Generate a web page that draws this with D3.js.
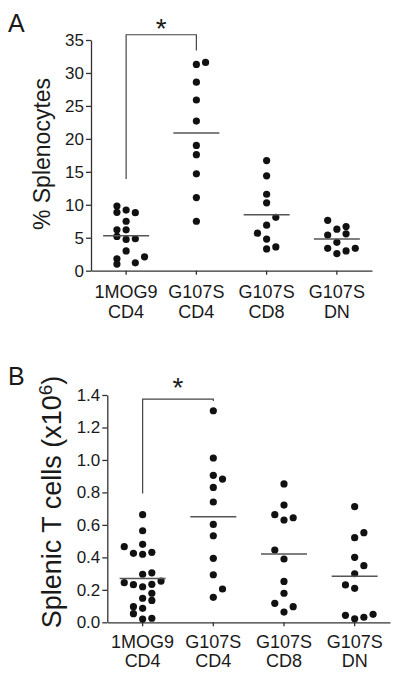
<!DOCTYPE html>
<html>
<head>
<meta charset="utf-8">
<script src="https://cdn.jsdelivr.net/npm/d3@7"></script>
<style>
  html, body { margin: 0; padding: 0; background: #fff; }
  svg { display: block; font-family: "Liberation Sans", Arial, Helvetica, sans-serif; }
</style>
</head>
<body>
<svg id="chart" width="400" height="677"></svg>
<script>
// ---------- DATA ----------
const groups = ["1MOG9 CD4", "G107S CD4", "G107S CD8", "G107S DN"];
const catTop = ["1MOG9", "G107S", "G107S", "G107S"];
const catBottom = ["CD4", "CD4", "CD8", "DN"];

// Panel A: % Splenocytes
const pctMOG9CD4   = [9.8, 8.85, 9.2, 8.8, 7.5, 6.2, 6.2, 5.2, 4.75, 4.85, 3.0, 1.8, 2.1, 1.0, 1.2];
const pctMOG9CD4Col = [-1, -1, 0, 1, 0, -1, 0, -1, 0, 1, 0, -1, 2, -1, 1];
const pctG107CD4   = [31.3, 31.6, 28.6, 25.9, 22.7, 19.0, 17.6, 14.7, 11.1, 7.5];
const pctG107CD4Col = [0, 1, 0, 0, 0, 0, 0, 0, 0, 0];
const pctG107CD8   = [16.7, 14.4, 11.6, 10.3, 8.1, 6.9, 5.7, 4.8, 3.3, 3.6];
const pctG107CD8Col = [0, 0, 0, 0, 1, 0, -1, 0, 0, 1];
const pctG107DN    = [7.65, 6.3, 6.7, 5.6, 5.4, 4.3, 3.4, 2.6, 3.0, 3.4];
const pctG107DNCol  = [-1, 0, 1, 1, -1, 0, -1, 0, 1, 2];
const pctMedians = [5.3, 20.9, 8.5, 4.8];
const pctTicks = [0, 5, 10, 15, 20, 25, 30, 35];

// Panel B: Splenic T cells (x10^6)
const cellsMOG9CD4   = [0.663, 0.564, 0.466, 0.480, 0.425, 0.419, 0.431, 0.296, 0.305, 0.244, 0.232, 0.219, 0.234, 0.254, 0.148, 0.179, 0.135, 0.096, 0.086, 0.053, 0.020, 0.025];
const cellsMOG9CD4Col = [0, 0, -2, 0, -1, 0, 1, 0, 1, -2, -1, 0, 1, 2, 0, 1, 1, -1, 0, -1, 0, 1];
const cellsG107CD4   = [1.303, 1.012, 0.905, 0.882, 0.831, 0.741, 0.603, 0.533, 0.394, 0.293, 0.205, 0.154];
const cellsG107CD4Col = [0, 0, 0, 1, 0, 0, 0, 0, 0, 0, 1, 0];
const cellsG107CD8   = [0.852, 0.722, 0.663, 0.630, 0.644, 0.445, 0.390, 0.252, 0.179, 0.117, 0.096, 0.063];
const cellsG107CD8Col = [0, 0, -1, 0, 1, -1, 0, 0, 0, -1, 1, 0];
const cellsG107DN    = [0.712, 0.521, 0.552, 0.400, 0.349, 0.299, 0.230, 0.209, 0.043, 0.022, 0.031, 0.049];
const cellsG107DNCol  = [0, 0, 1, 0, 1, 0, -1, 0, -1, 0, 1, 2];
const cellsMedians = [0.27, 0.65, 0.42, 0.283];
const cellsTicks = [0, 0.2, 0.4, 0.6, 0.8, 1.0, 1.2, 1.4];

// significance brackets: [groupFrom, groupTo, top value, left end value, right end value]
const bracketA = [0, 1, 35.8, 13.9, 33.4];
const bracketB = [0, 1, 1.375, 0.794, 1.363];

// ---------- DRAW ----------
const svg = d3.select("#chart");
const ink = "#1a1a1a";

function drawPanel(cfg) {
  const g = svg.append("g");
  const x = d3.scaleBand().domain(groups).range([cfg.left, cfg.right]);
  const y = d3.scaleLinear().domain([0, cfg.yMax]).range([cfg.bottom, cfg.top]);
  const cx = i => x(groups[i]) + x.bandwidth() / 2;

  // y axis
  const ya = g.append("g")
    .attr("transform", `translate(${cfg.left},0)`)
    .call(d3.axisLeft(y).tickValues(cfg.ticks).tickFormat(cfg.fmt)
      .tickSize(5).tickPadding(2).tickSizeOuter(0));
  // x axis
  const xa = g.append("g")
    .attr("transform", `translate(0,${cfg.bottom})`)
    .call(d3.axisBottom(x).tickSize(4).tickSizeOuter(0).tickFormat(""));
  [ya, xa].forEach(a => {
    a.selectAll("path, line").attr("stroke", "#333").attr("stroke-width", 1.3);
  });
  ya.selectAll("text").attr("font-size", cfg.tickFont).attr("fill", ink)
    .attr("font-family", "Liberation Sans, Arial, sans-serif");

  // category labels
  groups.forEach((gname, i) => {
    const t = g.append("text").attr("text-anchor", "middle")
      .attr("font-size", 18).attr("fill", ink);
    t.append("tspan").attr("x", cx(i)).attr("y", cfg.bottom + cfg.lab1).text(catTop[i]);
    t.append("tspan").attr("x", cx(i)).attr("y", cfg.bottom + cfg.lab2).text(catBottom[i]);
  });

  // dots
  cfg.series.forEach((s, i) => {
    g.append("g").selectAll("circle").data(s.values).join("circle")
      .attr("cx", (d, k) => cx(i) + s.cols[k] * 9.2)
      .attr("cy", d => y(d))
      .attr("r", 3.6)
      .attr("fill", "#111");
  });

  // medians
  g.append("g").selectAll("line").data(cfg.medians).join("line")
    .attr("x1", (d, i) => cx(i) - 23)
    .attr("x2", (d, i) => cx(i) + 23)
    .attr("y1", d => y(d)).attr("y2", d => y(d))
    .attr("stroke", "#555").attr("stroke-width", 1.5);

  // bracket
  const b = cfg.bracket;
  const bx0 = cx(b[0]), bx1 = cx(b[1]);
  g.append("path")
    .attr("d", `M${bx0},${y(b[3])}V${y(b[2])}H${bx1}V${y(b[4])}`)
    .attr("fill", "none").attr("stroke", "#444").attr("stroke-width", 1.2);
  g.append("text").attr("x", (bx0 + bx1) / 2).attr("y", cfg.starY)
    .attr("text-anchor", "middle").attr("font-size", 28).attr("fill", ink).text("*");

  // panel letter
  g.append("text").attr("x", 8).attr("y", cfg.letterY)
    .attr("font-size", 25).attr("fill", ink).text(cfg.letter);

  // y label
  const yl = g.append("text")
    .attr("transform", `translate(${cfg.ylabX},${cfg.ylabY}) rotate(-90)`)
    .attr("text-anchor", "middle").attr("font-size", cfg.ylabFont).attr("fill", ink);
  cfg.ylab(yl);
}

drawPanel({
  letter: "A", letterY: 32,
  left: 91, right: 372, top: 40, bottom: 270.7, yMax: 35,
  ticks: pctTicks, fmt: d3.format("d"), tickFont: 17,
  lab1: 27.6, lab2: 47,
  series: [
    { values: pctMOG9CD4, cols: pctMOG9CD4Col },
    { values: pctG107CD4, cols: pctG107CD4Col },
    { values: pctG107CD8, cols: pctG107CD8Col },
    { values: pctG107DN, cols: pctG107DNCol }
  ],
  medians: pctMedians,
  bracket: bracketA, starY: 38,
  ylabX: 50, ylabY: 154, ylabFont: 23,
  ylab: t => t.text("% Splenocytes")
});

drawPanel({
  letter: "B", letterY: 385,
  left: 107.3, right: 390, top: 395, bottom: 622.3, yMax: 1.4,
  ticks: cellsTicks, fmt: d3.format(".1f"), tickFont: 17,
  lab1: 25.4, lab2: 44.4,
  series: [
    { values: cellsMOG9CD4, cols: cellsMOG9CD4Col },
    { values: cellsG107CD4, cols: cellsG107CD4Col },
    { values: cellsG107CD8, cols: cellsG107CD8Col },
    { values: cellsG107DN, cols: cellsG107DNCol }
  ],
  medians: cellsMedians,
  bracket: bracketB, starY: 397,
  ylabX: 60.5, ylabY: 502, ylabFont: 27,
  ylab: t => {
    t.append("tspan").text("Splenic T cells (x10");
    t.append("tspan").attr("font-size", 19).attr("dy", -9).text("6");
    t.append("tspan").attr("dy", 9).text(")");
  }
});
</script>
</body>
</html>
